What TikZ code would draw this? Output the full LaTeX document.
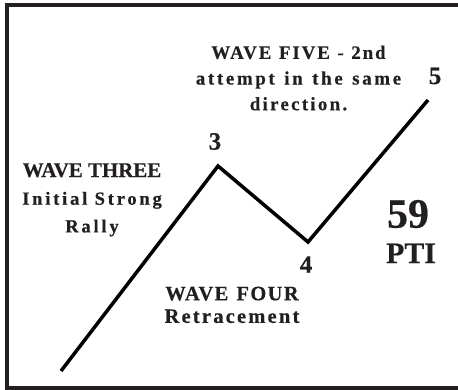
\documentclass[tikz,border=0pt]{standalone}
\usepackage{fontspec}
\setmainfont{Liberation Serif}[BoldFeatures={FakeBold=0.5}]
\definecolor{ink}{HTML}{231F20}
\newcommand{\lsp}[2]{\addfontfeature{LetterSpace=#1}\spaceskip=#2em\relax}
\begin{document}
\begin{tikzpicture}[x=1bp,y=-1bp,
  frame/.style={draw=ink,line width=3.5bp},
  wave/.style={draw=black,line width=3.5bp,line join=miter},
  lbl/.style={inner sep=0pt,text=ink,align=center,font=\bfseries},
  num/.style={inner sep=0pt,text=ink,font=\bfseries\fontsize{25}{25}\selectfont}]
\useasboundingbox (0,0) rectangle (458,389);
\draw[frame] (458,4.75) -- (6.75,4.75) -- (6.75,388) -- (458,388);

\coordinate (w2) at (61,371);
\coordinate (w3) at (218,166);
\coordinate (w4) at (308,242);
\coordinate (w5) at (428,100);
\draw[wave] (w2) -- (w3) -- (w4) -- (w5);

\node[num] (n3) at (215,141.5) {3};
\node[num] (n4) at (306,264.5) {4};
\node[num] (n5) at (435,76) {5};
\node[lbl,font=\bfseries\fontsize{42}{42}\selectfont] (n59) at (408,214) {59};
\node[lbl,font=\bfseries\fontsize{30}{30}\selectfont] (pti) at (411,253.3) {PTI};

\node[lbl,anchor=north,font=\bfseries\fontsize{19}{25.8}\selectfont] (five) at (298.5,45.5)
  {{\lsp{10}{.4}WAVE FIVE - 2nd}\\{\lsp{14}{.5}attempt in the same}\\{\lsp{12}{.5}direction.}};
\node[lbl,anchor=north,font=\bfseries\fontsize{18.6}{27.8}\selectfont] (three) at (92,163)
  {{\fontsize{21}{27.8}\selectfont WAVE THREE}\\{\lsp{15}{.4}Initial Strong}\\{\lsp{15}{.4}Rally}};
\node[lbl,anchor=north,font=\bfseries\fontsize{20.5}{22.7}\selectfont] (four) at (232,286.5)
  {{\lsp{7}{.4}WAVE FOUR}\\{\lsp{11}{.4}Retracement}};
\end{tikzpicture}
\end{document}
